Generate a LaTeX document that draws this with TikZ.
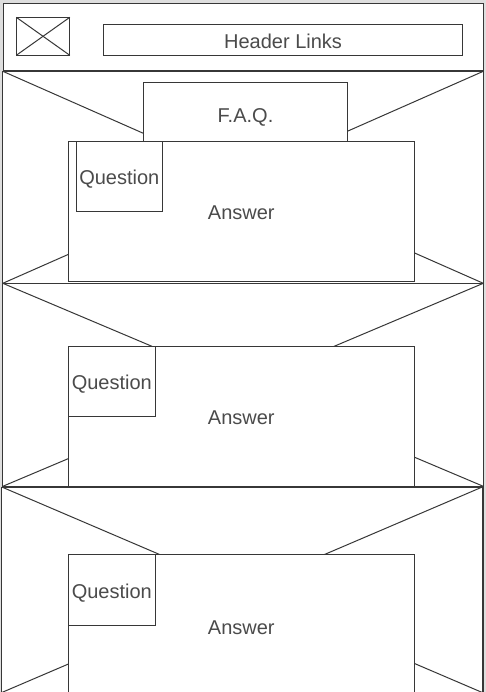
\documentclass[tikz,border=0pt]{standalone}
\usepackage{fontspec}
\setmainfont{Liberation Sans}
\definecolor{bggray}{RGB}{222,222,222}
\definecolor{linec}{RGB}{55,55,55}
\definecolor{textc}{RGB}{75,75,75}
\begin{document}
\begin{tikzpicture}[x=1pt,y=-1pt,
  box/.style={draw=linec, line width=1pt, fill=white, inner sep=0pt, outer sep=0pt,
    anchor=north west, text=textc, text height=16.8pt, text depth=0pt,
    font=\fontsize{20}{23}\selectfont},
  diag/.style={draw=linec, line width=1pt}]
\useasboundingbox (0,0) rectangle (486,692);
\fill[bggray] (0,0) rectangle (486,692);
\begin{scope}
\clip (0,0) rectangle (486,692);
% page and header
\node[box, minimum width=480pt, minimum height=687pt] (page) at (3,4) {};
\node[box, minimum width=480pt, minimum height=67pt] (header) at (3,4) {};
\node[box, minimum width=53.5pt, minimum height=38pt] (logo) at (16.3,17.3) {};
\draw[diag] (logo.north west) -- (logo.south east);
\draw[diag] (logo.south west) -- (logo.north east);
\node[box, minimum width=359.5pt, minimum height=31pt] (links) at (103.3,24.3) {Header Links};
% section 1
\node[box, minimum width=480.5pt, minimum height=212pt] (sec1) at (2.8,71.3) {};
\draw[diag] (sec1.north west) -- (sec1.south east);
\draw[diag] (sec1.north east) -- (sec1.south west);
\node[box, minimum width=204.4pt, minimum height=63pt] (faq) at (143.3,82.3) {F.A.Q.};
\node[box, minimum width=346pt, minimum height=139.7pt] (ans1) at (68.3,141.3) {Answer};
\node[box, minimum width=86pt, minimum height=69.5pt] (q1) at (76.3,141.6) {Question};
% section 2
\node[box, minimum width=480.5pt, minimum height=203pt] (sec2) at (2.8,283.3) {};
\draw[diag] (sec2.north west) -- (sec2.south east);
\draw[diag] (sec2.north east) -- (sec2.south west);
\node[box, minimum width=346pt, minimum height=140pt] (ans2) at (68.3,346.3) {Answer};
\node[box, minimum width=87pt, minimum height=69.7pt] (q2) at (68.3,346.3) {Question};
% section 3
\node[box, minimum width=480.5pt, minimum height=205.5pt] (sec3) at (1.8,487) {};
\draw[diag] (sec3.north west) -- (sec3.south east);
\draw[diag] (sec3.north east) -- (sec3.south west);
\node[box, minimum width=346pt, minimum height=144pt] (ans3) at (68.3,554.3) {Answer};
\node[box, minimum width=87pt, minimum height=71pt] (q3) at (68.3,554.3) {Question};
\end{scope}
\end{tikzpicture}
\end{document}
